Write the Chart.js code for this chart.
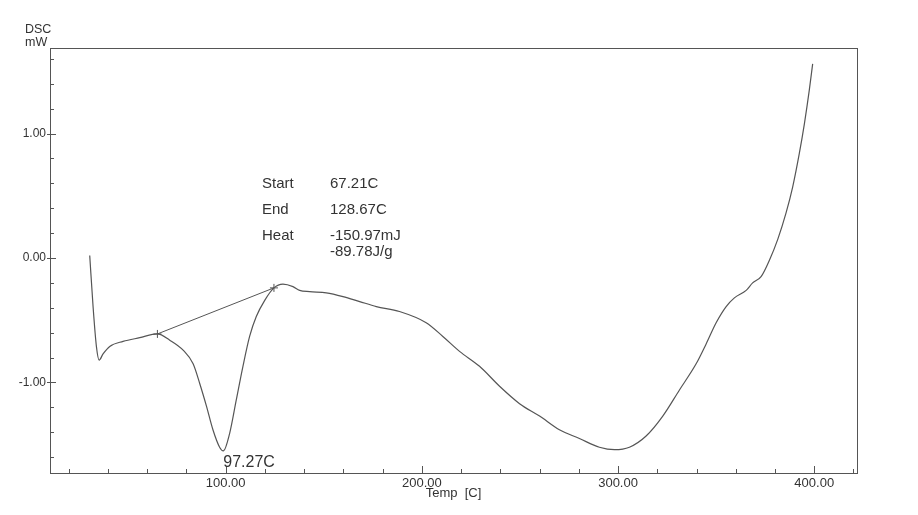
<!DOCTYPE html>
<html>
<head>
<meta charset="utf-8">
<script src="https://cdn.jsdelivr.net/npm/chart.js@4"></script>
<style>
  html, body { margin: 0; padding: 0; background: #fff; }
</style>
</head>
<body>
<canvas id="dsc" width="918" height="515"></canvas>
<script>
// DSC trace (temp in C, heat flow in mW)
const temps = [30.7, 32.4, 34.1, 35.5, 37.5, 40.9, 47.7, 56.2, 65.2, 71.5,
  78.3, 83.4, 86.8, 90.2, 93.5, 96.9, 98.8, 102, 105.4, 108.8,
  112.2, 115.6, 119.9, 124.6, 129.2, 134.3, 137.7, 142.8, 151.3, 159.8,
  168.3, 176.8, 188.6, 202.2, 210.7, 219.2, 229.4, 239.6, 249.8, 260,
  270.1, 280.3, 290.5, 298.2, 305.8, 314.3, 322.8, 331.3, 339.8, 344.9,
  350, 355.1, 359.3, 365.3, 368.6, 372.9, 377.1, 381.4, 385.6, 389,
  392.4, 395, 397.5, 399.2];
const heatFlow = [0.02, -0.39, -0.71, -0.82, -0.77, -0.71, -0.67, -0.64, -0.61, -0.66,
  -0.74, -0.85, -1.01, -1.19, -1.38, -1.52, -1.55, -1.41, -1.14, -0.87,
  -0.63, -0.47, -0.34, -0.24, -0.21, -0.23, -0.26, -0.27, -0.28, -0.31,
  -0.35, -0.39, -0.43, -0.52, -0.63, -0.75, -0.87, -1.03, -1.17, -1.27,
  -1.38, -1.45, -1.52, -1.54, -1.52, -1.43, -1.27, -1.06, -0.85, -0.69,
  -0.52, -0.39, -0.32, -0.26, -0.20, -0.15, -0.02, 0.15, 0.36, 0.57,
  0.84, 1.08, 1.35, 1.56];

// integration baseline (start / end marks)
const baselineTemps = [65.2, 124.6];
const baselineFlow = [-0.61, -0.24];

const peakTemp = 98.8;
const peakFlow = -1.55;
const peakText = '97.27C';

const resultNames = ['Start', 'End', 'Heat', ''];
const resultValues = ['67.21C', '128.67C', '-150.97mJ', '-89.78J/g'];

const xMinorTicks = [20, 40, 60, 80, 100, 120, 140, 160, 180, 200, 220, 240, 260, 280, 300, 320, 340, 360, 380, 400, 420];
const xLabelTicks = [100, 200, 300, 400];
const yMinorTicks = [-1.6, -1.4, -1.2, -1, -0.8, -0.6, -0.4, -0.2, 0, 0.2, 0.4, 0.6, 0.8, 1, 1.2, 1.4, 1.6];
const yLabelTicks = [-1, 0, 1];

const FONT = "'Liberation Sans', Arial, sans-serif";
const INK = '#333';

const dscMarks = {
  id: 'dscMarks',
  afterDraw(chart) {
    const { ctx, chartArea: a, scales: { x, y } } = chart;
    ctx.save();
    ctx.strokeStyle = '#555';
    ctx.lineWidth = 1;
    ctx.strokeRect(a.left + 0.5, a.top + 0.5, a.right - a.left, a.bottom - a.top);

    ctx.beginPath();
    xMinorTicks.forEach(v => {
      const px = Math.round(x.getPixelForValue(v)) + 0.5;
      const len = xLabelTicks.includes(v) ? 7 : 4;
      ctx.moveTo(px, a.bottom);
      ctx.lineTo(px, a.bottom - len);
    });
    yMinorTicks.forEach(v => {
      const py = Math.round(y.getPixelForValue(v)) + 0.5;
      const major = yLabelTicks.includes(v);
      ctx.moveTo(major ? a.left - 3 : a.left, py);
      ctx.lineTo(a.left + (major ? 6 : 4), py);
    });
    ctx.stroke();

    ctx.fillStyle = INK;
    ctx.textBaseline = 'alphabetic';
    ctx.font = '12.5px ' + FONT;
    ctx.fillText('DSC', 25, 33);
    ctx.fillText('mW', 25, 46);

    // results block
    ctx.font = '15px ' + FONT;
    const rows = [188, 214, 240, 256];
    resultNames.forEach((name, i) => {
      ctx.fillText(name, 262, rows[i]);
      ctx.fillText(resultValues[i], 330, rows[i]);
    });

    ctx.font = '16px ' + FONT;
    ctx.fillText(peakText, x.getPixelForValue(peakTemp), y.getPixelForValue(peakFlow) + 16);
    ctx.restore();
  }
};

new Chart(document.getElementById('dsc'), {
  type: 'line',
  data: {
    datasets: [
      {
        data: temps.map((t, i) => ({ x: t, y: heatFlow[i] })),
        borderColor: '#555',
        borderWidth: 1.2,
        pointRadius: 0,
        cubicInterpolationMode: 'monotone',
        fill: false
      },
      {
        data: baselineTemps.map((t, i) => ({ x: t, y: baselineFlow[i] })),
        borderColor: '#555',
        borderWidth: 1,
        pointStyle: 'cross',
        pointRadius: 4,
        pointBorderColor: '#555',
        pointBorderWidth: 1,
        tension: 0,
        fill: false
      }
    ]
  },
  options: {
    responsive: false,
    animation: false,
    layout: { padding: { top: 48, right: 61, left: 0, bottom: 0 } },
    plugins: { legend: { display: false }, tooltip: { enabled: false } },
    scales: {
      x: {
        type: 'linear',
        min: 10.45,
        max: 421.8,
        afterBuildTicks: s => { s.ticks = xLabelTicks.map(value => ({ value })); },
        afterFit: s => { s.height = 42; },
        grid: { display: false, drawTicks: false },
        border: { display: false },
        ticks: {
          callback: v => v.toFixed(2),
          font: { family: FONT, size: 13 },
          color: INK,
          padding: 3,
          maxRotation: 0,
          autoSkip: false
        },
        title: {
          display: true,
          text: 'Temp  [C]',
          font: { family: FONT, size: 13 },
          color: INK,
          padding: { top: 0, bottom: 14 }
        }
      },
      y: {
        type: 'linear',
        min: -1.727,
        max: 1.687,
        afterBuildTicks: s => { s.ticks = yLabelTicks.map(value => ({ value })); },
        afterFit: s => { s.width = 50; },
        grid: { display: false, drawTicks: false },
        border: { display: false },
        ticks: {
          callback: v => v.toFixed(2),
          font: { family: FONT, size: 12 },
          color: INK,
          padding: 4
        }
      }
    }
  },
  plugins: [dscMarks]
});
</script>
</body>
</html>
